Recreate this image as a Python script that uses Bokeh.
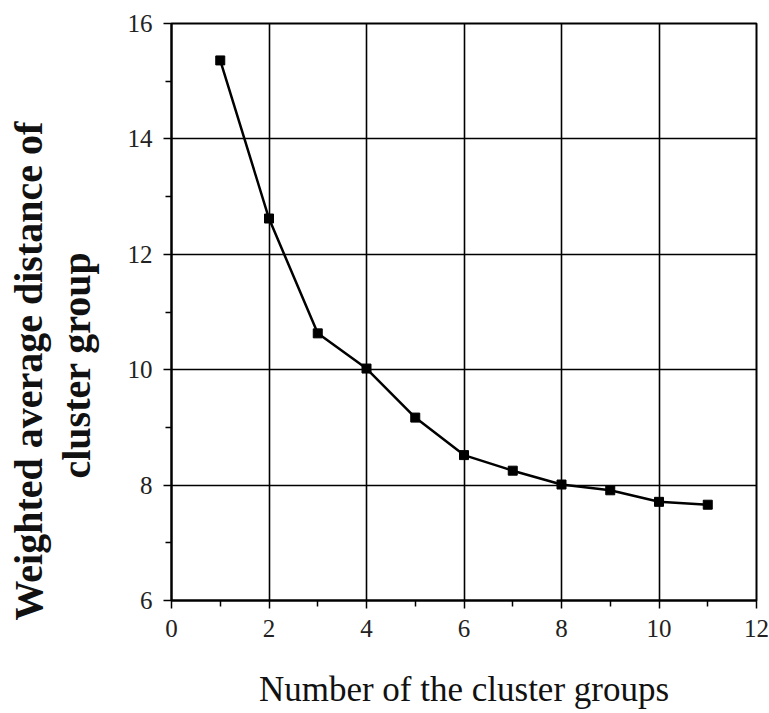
from bokeh.plotting import figure
from bokeh.models import Title, FixedTicker, Range1d
from bokeh.embed import file_html
from bokeh.resources import INLINE

# number of cluster groups vs. weighted average distance
groups = [1, 2, 3, 4, 5, 6, 7, 8, 9, 10, 11]
distance = [15.36, 12.62, 10.63, 10.02, 9.17, 8.52, 8.25, 8.01, 7.91, 7.71, 7.66]

x_ticks = [0, 2, 4, 6, 8, 10, 12]
x_minor = [1, 3, 5, 7, 9, 11]
y_ticks = [6, 8, 10, 12, 14, 16]
y_minor = [7, 9, 11, 13, 15]

y_title_lines = ["Weighted average distance of", "cluster group"]
x_title = "Number of the cluster groups"

SERIF = "Liberation Serif"

p = figure(
    frame_width=585, frame_height=577,
    x_range=Range1d(0, 12), y_range=Range1d(6, 16),
    min_border_left=171, min_border_right=13,
    min_border_top=23, min_border_bottom=113,
    output_backend="svg", toolbar_location=None,
    background_fill_color="white", border_fill_color="white",
)

p.outline_line_color = "black"
p.outline_line_width = 2

xt = FixedTicker(ticks=x_ticks, minor_ticks=x_minor)
yt = FixedTicker(ticks=y_ticks, minor_ticks=y_minor)
p.xaxis.ticker = xt
p.yaxis.ticker = yt

for g in (p.xgrid, p.ygrid):
    g.grid_line_color = "black"
    g.grid_line_width = 1.6
    g.grid_line_alpha = 1.0
p.xgrid.ticker = xt
p.ygrid.ticker = yt

for ax in (p.xaxis, p.yaxis):
    ax.axis_line_color = "black"
    ax.axis_line_width = 2
    ax.major_tick_line_color = "black"
    ax.minor_tick_line_color = "black"
    ax.major_tick_line_width = 1.5
    ax.minor_tick_line_width = 1.5
    ax.major_tick_out = 8
    ax.major_tick_in = 0
    ax.minor_tick_out = 6
    ax.minor_tick_in = 0
    ax.major_label_text_font = SERIF
    ax.major_label_text_font_size = "25px"
    ax.major_label_text_color = "#222222"

p.xaxis.major_label_standoff = 11
p.yaxis.major_label_standoff = 11

p.xaxis.axis_label = x_title
p.xaxis.axis_label_text_font = SERIF
p.xaxis.axis_label_text_font_size = "35px"
p.xaxis.axis_label_text_font_style = "normal"
p.xaxis.axis_label_text_color = "#111111"
p.xaxis.axis_label_standoff = 30

# two-line bold y title: each line is a side title, stacked outward from the axis
# (offset runs from the bottom of the frame, positive is upward)
title_offsets = [-20, 122]
title_standoffs = [-50, 52]
for text, off, so in reversed(list(zip(y_title_lines, title_offsets, title_standoffs))):
    p.add_layout(Title(
        text=text, align="left", offset=off, standoff=so,
        text_font=SERIF, text_font_size="40px", text_font_style="bold",
        text_color="#111111",
    ), "left")

p.line(groups, distance, line_color="black", line_width=2.5)
p.scatter(groups, distance, marker="square", size=9, fill_color="black", line_color="black")

open("out.html", "w").write(file_html(p, INLINE))
